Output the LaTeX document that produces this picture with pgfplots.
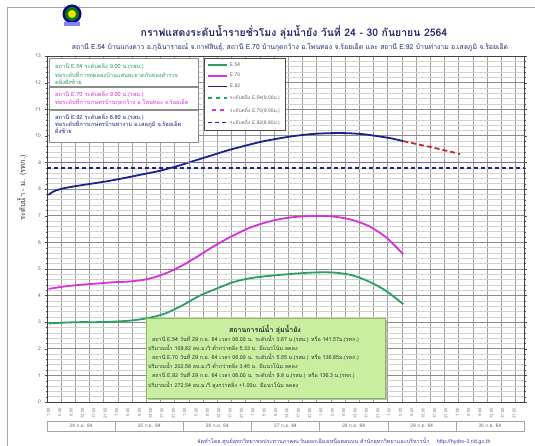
\documentclass[border=0pt]{standalone}
\usepackage{fontspec}
\setmainfont[Script=Thai]{Loma}
\usepackage{pgfplots}
\pgfplotsset{compat=1.18}
\definecolor{cEa}{RGB}{40,160,100}
\definecolor{cEb}{RGB}{215,50,215}
\definecolor{cEc}{RGB}{25,35,140}
\definecolor{cRed}{RGB}{200,40,40}
\definecolor{titleblue}{RGB}{35,40,110}
\definecolor{infogreen}{RGB}{200,238,160}
\definecolor{infoborder}{RGB}{130,190,80}
\definecolor{footblue}{RGB}{60,60,170}
\begin{document}
\begin{tikzpicture}[x=1bp,y=1bp]
% frame
\draw[gray!70, line width=0.8bp] (7,0) -- (7,439) -- (535,439);
% logo
\fill[blue!60!black] (72,432) circle (9.5);
\fill[green!50!black] (72,432) circle (7);
\fill[yellow!80!orange] (72,432) circle (4);
\fill[blue!50] (64,420) rectangle (80,423.5);
% title
\node[text=titleblue, font=\fontsize{10.5}{12}\selectfont\bfseries] at (294,414) {กราฟแสดงระดับน้ำรายชั่วโมง ลุ่มน้ำยัง วันที่ 24 - 30 กันยายน 2564};
\node[text=titleblue, font=\fontsize{6.9}{8}\selectfont] at (290,399) {สถานี E.54 บ้านแก่งดาว อ.กุฉินารายณ์ จ.กาฬสินธุ์, สถานี E.70 บ้านกุดกว้าง อ.โพนทอง จ.ร้อยเอ็ด และ สถานี E.92 บ้านท่างาม อ.เสลภูมิ จ.ร้อยเอ็ด};
% y label
\node[rotate=90, font=\fontsize{7.5}{8}\selectfont, text=black!80] at (22,258) {ระดับน้ำ - ม. (รทก.)};
\begin{axis}[
  at={(47bp,44bp)}, anchor=south west, scale only axis,
  width=477bp, height=346bp,
  xmin=0.5, xmax=168.5, ymin=0, ymax=13,
  axis line style={black!75, line width=0.8bp},
  ytick={0,...,13}, minor y tick num=4,
  ymajorgrids, yminorgrids,
  major y grid style={black!45, line width=0.8bp},
  minor y grid style={black!18, line width=0.5bp},
  xtick={1,5,...,165},
  xticklabels={1:00,5:00,9:00,13:00,17:00,21:00,1:00,5:00,9:00,13:00,17:00,21:00,1:00,5:00,9:00,13:00,17:00,21:00,1:00,5:00,9:00,13:00,17:00,21:00,1:00,5:00,9:00,13:00,17:00,21:00,1:00,5:00,9:00,13:00,17:00,21:00,1:00,5:00,9:00,13:00,17:00,21:00},
  minor xtick={5.5,10.5,...,165.5},
  xminorgrids,
  minor x grid style={black!38, line width=0.6bp},
  xtick style={draw=none},
  tick align=outside, major tick length=2.5bp, minor tick length=1.5bp,
  ytick style={black!70},
  /pgf/number format/assume math mode=true,
  yticklabel style={font=\fontsize{5}{6}\selectfont, text=black!60},
  xticklabel style={rotate=90, anchor=east, font=\fontsize{4.2}{5}\selectfont, text=black!55},
  legend style={at={(0.329,0.994)}, anchor=north west, draw=black!70, fill=white,
    font=\fontsize{5}{5.5}\selectfont, text=black!60, row sep=1.6bp, inner xsep=3bp, inner ysep=2.5bp},
  legend cell align=left,
  legend image code/.code={\draw[#1] (0bp,0bp) -- (19bp,0bp);},
  clip=false,
]
\addplot[cEa, line width=1.8bp, smooth] coordinates {(1,2.95)(6,2.98)(12,3.0)(18,3.0)(24,3.02)(30,3.06)(36,3.15)(42,3.32)(48,3.62)(54,3.98)(60,4.25)(66,4.5)(72,4.65)(78,4.73)(84,4.79)(90,4.84)(96,4.87)(102,4.86)(108,4.76)(114,4.52)(120,4.17)(126,3.67)};
\addlegendentry{E.54}
\addplot[cEb, line width=1.8bp, smooth] coordinates {(1,4.25)(6,4.33)(12,4.4)(18,4.45)(24,4.5)(30,4.53)(36,4.62)(42,4.82)(48,5.12)(54,5.5)(60,5.9)(66,6.25)(72,6.55)(78,6.76)(84,6.9)(90,6.97)(96,6.99)(102,6.96)(108,6.84)(114,6.6)(120,6.18)(126,5.55)};
\addlegendentry{E.70}
\addplot[cEc, line width=1.8bp, smooth] coordinates {(1,7.78)(3,7.92)(6,8.02)(10,8.1)(16,8.2)(22,8.3)(28,8.42)(34,8.55)(40,8.68)(46,8.85)(52,9.05)(58,9.25)(64,9.45)(70,9.62)(76,9.78)(82,9.9)(88,10.0)(94,10.07)(100,10.1)(106,10.1)(112,10.06)(118,9.97)(122,9.9)(126,9.8)};
\addlegendentry{E.92}
\addplot[cEa, line width=1.5bp, dash pattern=on 4bp off 4bp] coordinates {(0.5,9)(168.5,9)};
\addlegendentry{ระดับตลิ่ง E.54(9.00ม.)}
\addplot[cEb, line width=1.5bp, dash pattern=on 4bp off 4bp, dash phase=4bp] coordinates {(0.5,9)(168.5,9)};
\addlegendentry{ระดับตลิ่ง E.70(9.00ม.)}
\addplot[cEc, line width=1.5bp, dash pattern=on 4bp off 3bp] coordinates {(0.5,8.8)(168.5,8.8)};
\addlegendentry{ระดับตลิ่ง E.92(8.80ม.)}
\addplot[cRed, line width=1.8bp, dash pattern=on 5bp off 3bp, forget plot] coordinates {(126,9.8)(136,9.57)(146,9.32)};
\end{axis}
% station boxes
\draw[black!45, fill=white] (49,360) rectangle (198,388);
\draw[black!45, fill=white] (49,337) rectangle (198,359);
\draw[black!45, fill=white] (49,304) rectangle (198,336);
\begin{scope}[every node/.style={anchor=west, font=\fontsize{5.7}{6}\selectfont, inner sep=0}]
\node[text=cEa] at (55,379.5) {สถานี E.54 ระดับตลิ่ง 9.00 ม.(รสม.)};
\node[text=cEa] at (55,371.5) {ท่อระดับที่การทดลองบ้านแสนสะอาดกับท่องสำรวจ};
\node[text=cEa] at (55,364) {ตลิ่งฝั่งซ้าย};
\node[text=cEb] at (55,352) {สถานี E.70 ระดับตลิ่ง 9.00 ม.(รสม.)};
\node[text=cEb] at (55,344) {ท่อระดับที่การเกษตรบ้านกุดกว้าง อ.โพนทอง จ.ร้อยเอ็ด};
\node[text=cEc] at (55,329) {สถานี E.92 ระดับตลิ่ง 8.80 ม.(รสม.)};
\node[text=cEc] at (55,322) {ท่อระดับที่การเกษตรบ้านท่างาม อ.เสลภูมิ จ.ร้อยเอ็ด};
\node[text=cEc] at (55,315) {ฝั่งซ้าย};
\end{scope}
% info box
\fill[black!25] (148,46) rectangle (387,126);
\draw[infoborder, fill=infogreen, line width=0.6bp] (146,48) rectangle (385,128);
\node[font=\fontsize{7}{8}\selectfont\bfseries, text=black!85] at (265,116) {สถานการณ์น้ำ ลุ่มน้ำยัง};
\begin{scope}[every node/.style={anchor=west, font=\fontsize{5.4}{6}\selectfont, text=black!80, inner sep=0}]
\node at (152,107) {สถานี E.54 วันที่ 29 ก.ย. 64 เวลา 06.00 น. ระดับน้ำ 3.67 ม.(รสม.) หรือ 141.57ม.(รทก.)};
\node at (148,98) {ปริมาณน้ำ 109.82 ลบ.ม./วิ ต่ำกว่าตลิ่ง 5.33 ม. มีแนวโน้ม ลดลง};
\node at (152,89) {สถานี E.70 วันที่ 29 ก.ย. 64 เวลา 06.00 น. ระดับน้ำ 5.55 ม.(รสม.) หรือ 136.65ม.(รทก.)};
\node at (148,80) {ปริมาณน้ำ 202.58 ลบ.ม./วิ ต่ำกว่าตลิ่ง 3.45 ม. มีแนวโน้ม ลดลง};
\node at (152,71) {สถานี E.92 วันที่ 29 ก.ย. 64 เวลา 06.00 น. ระดับน้ำ 9.8 ม.(รสม.) หรือ 136.3 ม.(รทก.)};
\node at (148,61) {ปริมาณน้ำ 272.54 ลบ.ม./วิ สูงกว่าตลิ่ง +1.00ม. มีแนวโน้ม ลดลง};
\end{scope}
% date boxes
\foreach \k/\d in {0/24,1/25,2/26,3/27,4/28,5/29,6/30}{
  \draw[black!35, fill=white] ({47+68.14*\k},15) rectangle ({47+68.14*(\k+1)},25);
  \node[font=\fontsize{4.8}{5}\selectfont, text=black!60] at ({47+68.14*(\k+0.5)},20) {\d\ ก.ย. 64};
}
% footer
\node[font=\fontsize{5.5}{6}\selectfont, text=footblue] at (344,4.5) {จัดทำโดย ศูนย์อุทกวิทยาชลประทานภาคตะวันออกเฉียงเหนือตอนบน สำนักอุทกวิทยาและบริหารน้ำ \quad http://hydro-3.rid.go.th};
\pgfresetboundingbox
\path (0,0) rectangle (535,446);
\end{tikzpicture}
\end{document}
